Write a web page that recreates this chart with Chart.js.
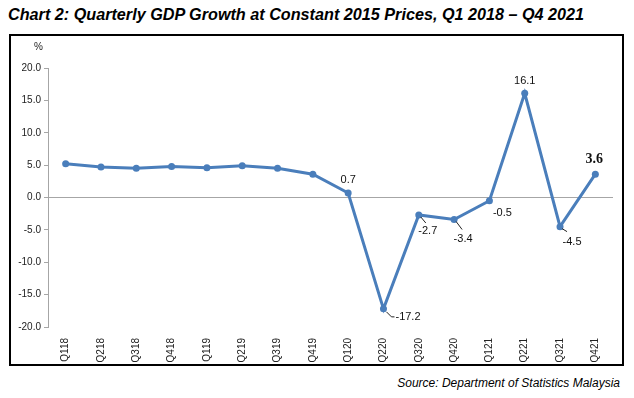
<!DOCTYPE html>
<html>
<head>
<meta charset="utf-8">
<script src="https://cdn.jsdelivr.net/npm/chart.js@4"></script>
<style>
  body { margin: 0; width: 634px; height: 398px; background: #fff; font-family: Arial, "Liberation Sans", sans-serif; position: relative; overflow: hidden; }
  #title { position: absolute; left: 8px; top: 5px; font-size: 16.2px; font-weight: bold; font-style: italic; color: #000; white-space: nowrap; }
  #box { position: absolute; left: 9px; top: 34px; width: 611px; height: 328px; border: 2px solid #000; }
  #unit { position: absolute; left: 23px; top: 5px; font-size: 10px; color: #222; }
  #chart { position: absolute; left: 0; top: 0; }
  #source { position: absolute; right: 14px; top: 376px; font-size: 12px; font-style: italic; color: #000; }
</style>
</head>
<body>
<div id="title">Chart 2: Quarterly GDP Growth at Constant 2015 Prices, Q1 2018 – Q4 2021</div>
<div id="box">
  <canvas id="chart" width="611" height="328"></canvas>
  <div id="unit">%</div>
</div>
<div id="source">Source: Department of Statistics Malaysia</div>
<script>
'use strict';

var quarters = ['Q118','Q218','Q318','Q418','Q119','Q219','Q319','Q419',
                'Q120','Q220','Q320','Q420','Q121','Q221','Q321','Q421'];
var gdpGrowth = [5.2, 4.7, 4.5, 4.8, 4.6, 4.9, 4.5, 3.6,
                 0.7, -17.2, -2.7, -3.4, -0.5, 16.1, -4.5, 3.6];
var labelledQuarters = ['Q120','Q220','Q320','Q420','Q121','Q221','Q321','Q421'];
var yTicks = [-20, -15, -10, -5, 0, 5, 10, 15, 20];

// label placement relative to the point: dx, dy (text centre), leader end, bold
var labelStyle = {
  Q120: { dx: 0, dy: -13 },
  Q220: { dx: 24, dy: 8, leader: [[3, 3], [8, 8], [11, 8]], align: 'left', lx: 12 },
  Q320: { dx: 9, dy: 16, leader: [[2, 2], [7, 8]] },
  Q420: { dx: 9, dy: 19, leader: [[2, 2], [8, 10]] },
  Q121: { dx: 13, dy: 12 },
  Q221: { dx: 0, dy: -12 },
  Q321: { dx: 12, dy: 15, leader: [[2, 2], [7, 5]] },
  Q421: { dx: -1, dy: -15, bold: true }
};

var valueLabels = {
  id: 'valueLabels',
  afterDatasetsDraw: function (chart) {
    var ctx = chart.ctx, meta = chart.getDatasetMeta(0);
    ctx.save();
    labelledQuarters.forEach(function (q) {
      var i = quarters.indexOf(q), pt = meta.data[i], st = labelStyle[q];
      var text = gdpGrowth[i].toFixed(1);
      if (st.leader) {
        ctx.strokeStyle = '#222';
        ctx.lineWidth = 1;
        ctx.beginPath();
        ctx.moveTo(pt.x + st.leader[0][0], pt.y + st.leader[0][1]);
        for (var k = 1; k < st.leader.length; k++) ctx.lineTo(pt.x + st.leader[k][0], pt.y + st.leader[k][1]);
        ctx.stroke();
      }
      ctx.fillStyle = '#111';
      ctx.font = st.bold ? 'bold 14px "Times New Roman", "Liberation Serif", serif' : '11px Arial, "Liberation Sans", sans-serif';
      ctx.textBaseline = 'middle';
      if (st.align === 'left') {
        ctx.textAlign = 'left';
        ctx.fillText(text, pt.x + st.lx, pt.y + st.dy);
      } else {
        ctx.textAlign = 'center';
        ctx.fillText(text, pt.x + st.dx, pt.y + st.dy);
      }
    });
    ctx.restore();
  }
};

var context = document.getElementById('chart').getContext('2d');
var chart = new Chart(context, {
  type: 'line',
  data: {
    labels: quarters,
    datasets: [{
      data: gdpGrowth,
      borderColor: '#4a7ebb',
      backgroundColor: '#4a7ebb',
      borderWidth: 3,
      pointRadius: 3.5,
      pointBorderWidth: 0,
      pointHoverRadius: 3.5,
      tension: 0
    }]
  },
  options: {
    responsive: false,
    animation: false,
    layout: { padding: { top: 32, right: 9, left: 0, bottom: 0 } },
    plugins: { legend: { display: false }, tooltip: { enabled: false } },
    scales: {
      x: {
        offset: true,
        grid: { display: false },
        border: { display: false },
        ticks: {
          minRotation: 90, maxRotation: 90, autoSkip: false,
          color: '#222', padding: 3,
          font: { family: 'Arial, "Liberation Sans", sans-serif', size: 10 }
        },
        afterFit: function (scale) { scale.height = 37; }
      },
      y: {
        min: -20, max: 20,
        afterBuildTicks: function (scale) {
          scale.ticks = yTicks.map(function (v) { return { value: v }; });
        },
        grid: {
          color: function (c) { return c.tick && c.tick.value === 0 ? '#a6a6a6' : 'rgba(0,0,0,0)'; },
          tickColor: '#a6a6a6',
          tickLength: 4,
          lineWidth: 1
        },
        border: { display: true, color: '#a6a6a6', width: 1 },
        ticks: {
          color: '#222', padding: 3,
          font: { family: 'Arial, "Liberation Sans", sans-serif', size: 10 },
          callback: function (v) { return Number(v).toFixed(1); }
        },
        afterFit: function (scale) { scale.width = 37; }
      }
    }
  },
  plugins: [valueLabels]
});
</script>
</body>
</html>
